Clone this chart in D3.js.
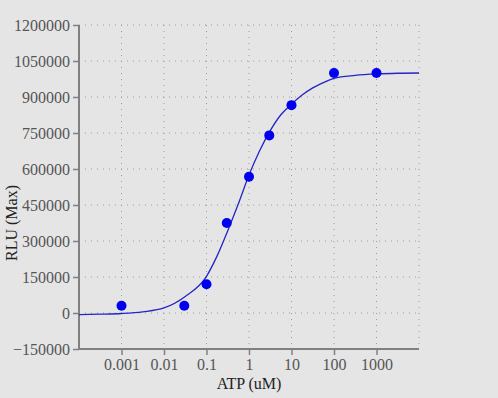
<!DOCTYPE html>
<html><head><meta charset="utf-8">
<script src="https://cdn.jsdelivr.net/npm/d3@7"></script>
<style>
html,body{margin:0;padding:0;background:#e5e5e5;}
svg{display:block;}
svg text{font-family:"Liberation Serif","Times New Roman",Tinos,"DejaVu Serif",serif;}
</style></head>
<body>
<script>
// Measured data points
const atpConc = [0.001, 0.03, 0.1, 0.3, 1, 3, 10, 100, 1000];
const rluMax  = [30000, 30000, 120000, 375000, 568000, 740000, 866000, 1000000, 1000000];

// Fitted curve (log10 concentration, RLU)
const curveLogX = [-4, -3.5, -3, -2.5, -2, -1.5, -1, -0.75, -0.5, -0.25, 0, 0.25, 0.5, 0.75, 1, 1.25, 1.5, 1.75, 2, 2.5, 3, 3.5, 4];
const curveY    = [-7000, -5000, -2000, 5000, 21000, 69000, 153000, 238000, 343000, 455000, 575000, 676000, 760000, 826000, 870000, 908000, 938000, 960000, 978000, 990000, 996000, 999000, 1000000];

const yTicks = [-150000, 0, 150000, 300000, 450000, 600000, 750000, 900000, 1050000, 1200000];
const xTicks = [0.0001, 0.001, 0.01, 0.1, 1, 10, 100, 1000, 10000];
const xTickLabels = ["", "0.001", "0.01", "0.1", "1", "10", "100", "1000", ""];

(function () {
const W = 498, H = 398;
const mLeft = 79, mRight = 419, mTop = 25, mBottom = 349;

const svg = d3.select("body").append("svg").attr("width", W).attr("height", H)
  .style("background", "#e5e5e5");

const x = d3.scaleLog().domain([1e-4, 1e4]).range([mLeft, mRight]);
const y = d3.scaleLinear().domain([-150000, 1200000]).range([mBottom, mTop]);

// grid
const grid = svg.append("g");
grid.selectAll("line.h").data(yTicks.slice(1)).enter().append("line")
  .attr("x1", mLeft).attr("x2", mRight)
  .attr("y1", d => y(d)).attr("y2", d => y(d))
  .attr("stroke", "#9a9a9a").attr("stroke-width", 1).attr("stroke-dasharray", "1,5");
grid.selectAll("line.v").data(xTicks.slice(1)).enter().append("line")
  .attr("y1", mTop).attr("y2", mBottom)
  .attr("x1", d => x(d)).attr("x2", d => x(d))
  .attr("stroke", "#9a9a9a").attr("stroke-width", 1).attr("stroke-dasharray", "1,5");

// axes
const yAxis = svg.append("g").attr("transform", `translate(${mLeft},0)`)
  .call(d3.axisLeft(y).tickValues(yTicks).tickSize(6).tickPadding(3).tickFormat(d3.format("d")));
const xAxis = svg.append("g").attr("transform", `translate(0,${mBottom})`)
  .call(d3.axisBottom(x).tickValues(xTicks.slice(1, -1)).tickSize(6).tickPadding(4)
    .tickFormat((d) => xTickLabels[xTicks.indexOf(d)]));

[yAxis, xAxis].forEach(a => {
  a.attr("font-family", null);
  a.select(".domain").attr("stroke", "#808080").attr("stroke-width", 2);
  a.selectAll(".tick line").attr("stroke", "#808080").attr("stroke-width", 1.5);
  a.selectAll(".tick text").attr("fill", "#555").style("font-size", "16px");
});
yAxis.select(".domain").attr("d", `M0,${mTop}V${mBottom}`);
xAxis.select(".domain").attr("d", `M${mLeft},0H${mRight}`);

// curve
const line = d3.line()
  .x((d, i) => x(Math.pow(10, curveLogX[i])))
  .y((d) => y(d))
  .curve(d3.curveMonotoneX);
svg.append("path").datum(curveY).attr("d", line)
  .attr("fill", "none").attr("stroke", "#2424c8").attr("stroke-width", 1.3);

// points
svg.selectAll("circle").data(atpConc).enter().append("circle")
  .attr("cx", d => x(d)).attr("cy", (d, i) => y(rluMax[i])).attr("r", 5)
  .attr("fill", "#0000f0");

// labels
svg.append("text").attr("x", (mLeft + mRight) / 2).attr("y", 389)
  .attr("text-anchor", "middle").style("font-size", "16px")
  .attr("fill", "#222").text("ATP (uM)");
svg.append("text").attr("transform", "translate(17,223) rotate(-90)")
  .attr("text-anchor", "middle").style("font-size", "16px")
  .attr("fill", "#222").text("RLU (Max)");
})();
</script>
</body></html>
